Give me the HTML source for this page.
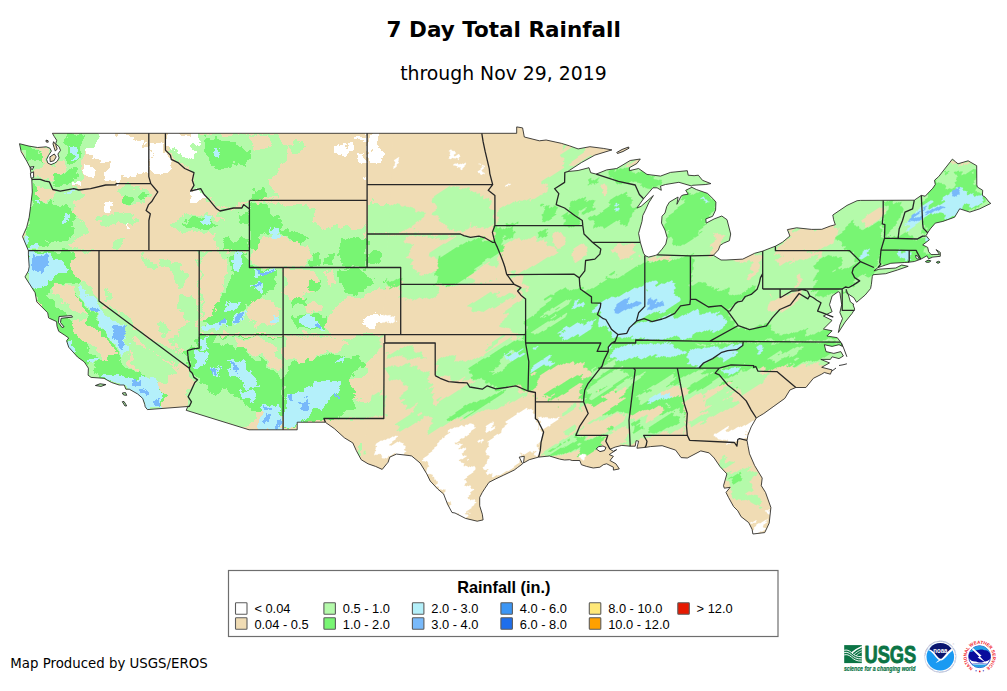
<!DOCTYPE html>
<html><head><meta charset="utf-8"><title>7 Day Total Rainfall</title>
<style>
html,body{margin:0;padding:0;background:#fff;}
body{width:1007px;height:691px;overflow:hidden;position:relative;font-family:"DejaVu Sans","Liberation Sans",sans-serif;}
svg{position:absolute;left:0;top:0;}
.t1{font:bold 21.5px "DejaVu Sans",sans-serif;fill:#000;}
.t2{font:18.83px "DejaVu Sans",sans-serif;fill:#000;}
.t3{font:13.33px "DejaVu Sans",sans-serif;fill:#000;}
.lg{font:12.85px "Liberation Sans",sans-serif;fill:#000;}
.lgt{font:bold 16.3px "Liberation Sans",sans-serif;fill:#000;}
</style></head><body>
<svg width="1007" height="691" viewBox="0 0 1007 691">
<defs><filter id="rough" x="0" y="0" width="1007" height="691" filterUnits="userSpaceOnUse" color-interpolation-filters="sRGB"><feTurbulence type="fractalNoise" baseFrequency="0.1" numOctaves="4" seed="7" result="n"/><feDisplacementMap in="SourceGraphic" in2="n" scale="13" xChannelSelector="R" yChannelSelector="G"/></filter><filter id="streak" x="-200" y="-200" width="1500" height="1200" filterUnits="userSpaceOnUse" color-interpolation-filters="sRGB"><feTurbulence type="fractalNoise" baseFrequency="0.018 0.13" numOctaves="3" seed="11" result="n"/><feDisplacementMap in="SourceGraphic" in2="n" scale="16" xChannelSelector="R" yChannelSelector="G"/></filter><clipPath id="cw"><path d="M0 0H402L387 300L332 691H0Z"/></clipPath><clipPath id="ce"><path d="M400 0H1007V691H330L385 300Z"/></clipPath><clipPath id="us"><path d="M19.5 143.7L29 146.1L37.6 147.5L46.3 146.8L49.9 148.2L51.4 151.1L48.5 155.5L46.6 159.4L47.8 163.1L51 164.6L54.7 163.1L57.2 161.3L59.1 157.9L57.9 154L60.5 150.4L59.1 146.8L55.7 143.9L56.7 140.3L54.3 136.6L52.4 133.3L516.7 133.3L516.7 126.9L522.6 127.9L524.3 137L539.4 140.8L546.1 140L561.3 143.3L569.7 145.9L578.1 148.9L589.9 146.7L603.3 148.4L611.9 149.9L594.9 155.1L581.4 162.6L569.7 170.2L568 171.5L578.1 170.5L589 167.7L590.7 172.7L596.2 174.1L606.7 169.9L616.7 168.5L621 166L630.2 160.5L640.3 159L636.9 163.5L629.4 167.7L629.4 170.7L638.6 168.5L647 174.4L660.5 176.1L670.5 172.4L687.3 170.7L688.2 175.2L694.1 175.7L698.3 175.2L702.5 180.3L710.9 183.6L705.8 184.5L692.4 185.3L691.9 186.1L678.9 182.3L665.5 184.5L660.5 186.1L661.3 190.3L657.1 187.8L652.9 187.8L643.6 198.7L636.9 208L641.1 206.3L653.4 195.5L648.7 202.9L645.3 210.5L642.8 215.5L642 221.4L638.6 233.3L640.3 242.3L643.6 253.3L645.3 255.8L648.7 257.1L655.4 255.4L657.1 254.8L662.1 249.1L665.8 244L667.2 237.7L665 230.1L661.5 223.1L662 216.2L665 213L666.7 206.6L669.4 202.1L678.1 197L676.9 204.3L681 196.2L683 195L688.2 194.2L685.7 190.3L691.9 187.3L696.3 189.5L707.5 193.4L713.7 199.4L715.9 202.1L715.6 210.1L712.6 216.3L705.8 218.9L706.2 223.1L714.2 218.9L721.8 216L727 219.7L730.7 234L729.4 240.7L723.5 243.2L720.1 245.4L718.4 249.9L713.4 255.3L721 260L726 260L742.8 259.1L754.6 253.3L762.7 251.1L770.1 248.2L775.4 246.2L782.3 242.3L789.9 236L787.4 229.6L796.6 227.8L811.7 229.4L821.8 229.3L830.2 226.1L835.3 224.7L833.6 219.7L832.8 215L847 205.4L857.1 200.7L860.5 200.4L914.3 200.2L921.3 195.4L925.2 196.2L932.8 188.2L935.3 184.5L934.5 180.3L938.7 176.6L952.4 159.1L955.5 161.8L958 163.8L968.1 160.8L976.7 165.7L976.8 184.8L977.3 187L982.7 190.3L982.4 195.4L985.2 197.2L989.1 202.1L990.8 203.4L979.8 208.8L969.8 212.1L959.7 208.8L954.6 217.2L942.9 221.4L935.3 223.1L930.3 228.9L927.7 232.8L926.1 235.6L929.4 239.8L922.7 244.9L927.7 247.4L928.6 251.6L931.1 254.6L939.5 254.4L936.1 249.6L940.3 252.4L940.3 256.3L932.8 257.1L928.6 258.8L926.9 255.8L921 259.1L914.3 261.5L908.2 262.3L904.2 262.5L890.8 263.3L885.7 265L878.1 267.5L873.9 270.9L879 269.2L895.8 268L901.7 265L908.2 266.3L897.5 270L885.7 273.7L873.1 274.7L872.3 276.4L871.4 284.3L870.6 288.5L865.2 295L856.6 302.3L853.8 297.7L846.2 292.7L846.2 289.3L848.7 296L850.4 301.9L853.9 304.4L853 304.7L854.7 309.1L852.1 313.4L845.1 322.1L838.4 332.5L839.9 325L842.5 318.6L839.9 312.5L841.7 304.7L840.5 297L839.9 292.6L838.2 291.7L832.1 296L829.5 304.7L832.1 311.7L823.4 316L832.1 320.4L823.4 329L832.1 330.8L826.9 336L837.3 337.7L839.9 341.2L840.8 342.1L842.5 346.4L839 344.7L832.1 346.4L824.3 344.7L826 351.6L833.8 353.4L840.8 351.6L843.4 356L839 358.6L832.1 356.8L830.4 359.4L820.8 359.4L829.5 362.9L821.7 367.3L832.1 369.9L830.4 374.2L824.3 372.5L821.8 374.1L813.4 378.3L805.9 387.5L795.8 387.5L789.9 390L784.8 398.4L773.1 406.8L763.8 413.5L759.6 416L756.3 418L751.2 426.9L747.9 435.3L747 440.4L747.9 445.4L749.5 453.8L754.6 465.5L762.2 478.1L761.3 485.7L765.5 492.4L770.9 507.5L769.2 523.1L765.5 531L764.7 532.6L752.9 534L752.1 529.3L748.7 522.6L741.1 516.7L737.8 510.8L733.6 506.6L728.5 497.4L726 492.4L730.2 487.3L724.3 488.2L723.5 485.7L726.9 473.9L720.1 466.7L714.2 458L709.2 452.9L700.8 450.9L687.3 458L681.1 457.6L675.6 450.1L662.1 445.7L650.4 446.6L645.3 447.4L636.9 448.2L638.6 441.2L636.1 440.7L635.2 446.2L630.2 446.2L621.8 445.4L615.1 447.1L610 449.2L613.4 451.3L616.7 449.6L609.2 454.6L613.4 456.3L610 460.5L615.9 463.8L619.3 468.9L613.4 470.1L613.4 467.2L606.7 463.8L603.3 464.7L599.9 467.2L593.2 468L586.5 466.4L581.4 464.7L579.8 460.5L572.2 460.5L569.7 459.7L564.6 460L559.6 459.1L549.5 456L538.6 457.1L529.3 459.7L523.5 463L524.3 456.3L519.2 457.1L522.6 463.8L517.6 467.5L514.2 470.1L503.3 475.3L495.7 478.9L489 482.3L484.8 488.5L482.3 492.4L479.7 497.4L479.7 505.8L482.3 514.2L483.1 519.9L477.2 521.2L465.5 518.4L455 513L452 512.5L447.5 504.1L443.6 494L437.7 489L430.2 481L426.8 473.9L420.1 463L411.7 456L409.1 455.5L396.5 454.1L389.8 457.1L388.1 462.2L382.2 469.4L375.5 466.4L368 463.8L361.2 459.7L356.2 450.4L352.8 442.9L344.4 437.8L334.3 428.6L325.9 422.7L325.4 422.2L297.2 422.2L297.2 429.8L249.1 429.8L186.2 410.3L187.8 406.5L147.4 409.6L145.2 406.8L144.7 404.3L142.7 398.4L137.7 394L129.3 389.2L125.9 389.2L124.2 385L119.2 385L111.6 382.5L104 378.3L91.1 377.4L88.1 375.2L88.4 368.2L84.4 362L77.5 357L68.7 347.2L66.6 340.8L68.7 338L64.9 335.3L58.7 331.3L57 326.2L56.6 321.6L48.6 317.9L47.7 312.8L36.8 301.9L35.1 292.7L25 276.9L28.4 270.9L29.2 266.7L28.4 254.9L28.4 250.7L22.5 236.6L26.7 227.2L29.2 217.2L30.6 206.6L32.3 192L31.8 179.8L30.9 172.7L30.1 167.7L26.7 161L21.2 151.7Z"/></clipPath></defs>
<rect width="1007" height="691" fill="#fff"/>
<text class="t1" x="503.7" y="36.9" text-anchor="middle">7 Day Total Rainfall</text>
<text class="t2" x="503.4" y="80.1" text-anchor="middle">through Nov 29, 2019</text>
<g clip-path="url(#us)" shape-rendering="crispEdges">
<rect x="0" y="110" width="1007" height="450" fill="#F0DCB4"/>
<g clip-path="url(#cw)">
<g filter="url(#rough)">
<g id="regs">
<rect x="-200" y="-100" width="1400" height="900" fill="#F0DCB4"/>
<path fill="#78F573" d="M182.6 335.6L283.1 335.6L283.1 413.8L182.6 413.8Z"/>
<path fill="#B4FAAA" d="M17.4 142.3L53.4 132.4L99.3 132.4L95.6 143.6L86.9 149.8L84.4 159.7L81.9 167.2L85.7 177.1L79.4 183.3L72 188.3L81.9 190.8L85.7 197L74.5 201.9L72 209.4L79.4 219.3L86.9 224.3L86.9 231.7L79.4 236.7L72 239.2L70.8 245.4L81.9 250.3L96.8 250.3L96.8 293.8L22.3 293.8L22.3 239.2L29.8 194.5L27.3 169.7Z"/>
<path fill="#B4FAAA" d="M119.2 187L134.1 185.8L149 194.5L146.5 204.4L139 201.9L129.1 204.4L124.1 197L116.7 194.5Z"/>
<path fill="#B4FAAA" d="M99.3 216.8L116.7 211.9L131.6 214.3L139 219.3L129.1 224.3L116.7 221.8L106.8 226.8L98.1 224.3Z"/>
<path fill="#B4FAAA" d="M116.7 239.2L124.1 236.7L121.6 249.1L115.4 249.1Z"/>
<path fill="#B4FAAA" d="M171.3 224.3L181.2 216.8L198.6 213.1L216 215.6L223.4 224.3L218.5 231.7L203.6 234.2L188.7 231.7L173.8 230.5Z"/>
<path fill="#B4FAAA" d="M142.8 255.3L149 259L156.4 266.5L152.7 269L145.2 262.8Z"/>
<path fill="#B4FAAA" d="M175 271.4L181.2 270.2L182.5 278.9L176.3 278.9Z"/>
<path fill="#B4FAAA" d="M247.5 200.7L282.3 200.7L287.2 205.7L307.1 205.7L317 211.9L312.1 224.3L331.9 229.2L339.4 226.8L359.2 229.2L366.2 224.3L367.2 267L247.5 267Z"/>
<path fill="#B4FAAA" d="M367.7 201.9L389 203.2L408.9 206.9L421.3 211.9L423.8 221.8L413.9 229.2L399 231.7L367.7 233.7Z"/>
<path fill="#B4FAAA" d="M436.2 194.5L448.6 185.8L466 189.5L483.4 194.5L492.8 201.9L494.5 224.3L483.4 229.2L468.5 224.3L461 231.7L448.6 229.2L438.7 219.3L433.7 206.9Z"/>
<path fill="#B4FAAA" d="M367.7 233.7L461 233.7L468.5 236.7L488.3 239.2L503.2 249.1L503.2 293.8L400.9 293.8L400.9 267.7L367.7 267.7Z"/>
<path fill="#B4FAAA" d="M562.1 149.8L574.5 146.1L584.4 149.3L609.2 149.3L629.1 144.8L649 157.2L688.7 169.7L713.5 182.1L733.4 214.3L753.2 249.1L753.2 293.8L497.5 293.8L497.5 206.9L514.9 204.4L532.3 199.4L547.2 194.5L549.7 184.5L539.7 179.6L557.1 172.1L564.5 167.2Z"/>
<path fill="#B4FAAA" d="M747.5 157.2L1000.7 157.2L1000.7 293.8L747.5 293.8Z"/>
<path fill="#B4FAAA" d="M19.9 249.9L99.3 249.9L99.3 300.8L188.7 367.9L201.1 379L193.6 413.8L146.5 413.8L86.9 379L22.3 277.2Z"/>
<path fill="#B4FAAA" d="M158.9 257.4L173.8 262.3L171.3 267.3L158.9 264.8Z"/>
<path fill="#B4FAAA" d="M173.8 269.8L183.7 267.3L188.7 274.8L181.2 287.2L173.8 282.2Z"/>
<path fill="#B4FAAA" d="M178.7 297.1L191.2 294.6L198.1 304.5L198.1 321.9L188.7 326.9L183.7 314.5L177.5 307Z"/>
<path fill="#B4FAAA" d="M104.3 292.1L109.2 289.7L111.7 299.6L105.5 302.1Z"/>
<path fill="#B4FAAA" d="M168.8 339.3L183.7 336.8L188.7 346.8L178.7 349.2Z"/>
<path fill="#B4FAAA" d="M149 349.2L161.4 344.3L178.7 349.2L188.7 354.2L187.4 366.6L173.8 364.1L158.9 356.7Z"/>
<path fill="#B4FAAA" d="M119.2 312L129.1 314.5L134.1 326.9L126.6 324.4Z"/>
<path fill="#B4FAAA" d="M156.4 325.7L166.3 323.2L170.1 331.9L162.6 335.6Z"/>
<path fill="#B4FAAA" d="M199.4 251.2L249.6 251.2L249.6 267.3L283.1 267.3L283.1 334.3L199.4 334.3Z"/>
<path fill="#B4FAAA" d="M283.1 267.3L401 267.3L401 284.7L388.6 289.7L378.7 287.2L368.7 294.6L353.9 299.6L343.9 297.1L339 304.5L329 314.5L324.1 324.4L329 334.3L283.1 334.3Z"/>
<path fill="#B4FAAA" d="M249.6 237.5L367.5 237.5L367.5 267.3L249.6 267.3Z"/>
<path fill="#B4FAAA" d="M367.5 237.5L443.2 237.5L443.2 284.7L401 284.7L401 267.3L367.5 267.3Z"/>
<path fill="#B4FAAA" d="M401 284.7L443.2 284.7L443.2 299.6L420.9 297.1L401 299.6Z"/>
<path fill="#B4FAAA" d="M386.1 351.7L401 346.8L418.4 349.2L428.3 359.2L423.4 374.1L413.4 389L401 401.4L388.6 413.8L384.9 389Z"/>
<path fill="#B4FAAA" d="M283.1 335.6L329 335.6L348.9 339.3L363.8 335.6L383.6 335.6L383.6 344.3L373.7 356.7L363.8 364.1L368.7 374.1L348.9 379L343.9 393.9L348.9 413.8L283.1 413.8Z"/>
<path fill="#B4FAAA" d="M214.8 336.8L283.1 336.8L283.1 379L274.4 374.1L264.5 364.1L254.5 356.7L239.7 346.8L227.2 344.3L214.8 341.8Z"/>
<path fill="#B4FAAA" d="M507 272.3L601.4 272.3L601.4 344.3L524.4 344.3L524.4 297.1Z"/>
<path fill="#B4FAAA" d="M687.5 237.5L943.2 237.5L943.2 413.8L687.5 413.8Z"/>
<path fill="#B4FAAA" d="M326.1 419.7L353.4 419.7L363.4 424.7L353.4 432.1L343.5 429.7L333.6 424.7Z"/>
<path fill="#B4FAAA" d="M355.9 447L363.4 452L365.8 459.4L358.4 457Z"/>
<path fill="#B4FAAA" d="M577.5 394.8L686.8 394.8L686.8 435L643.3 435L629.7 444.5L609.8 444.5L607.3 435.8L577.5 435.8Z"/>
<path fill="#B4FAAA" d="M198.7 133.9L275.1 133.9L289 146.1L282.1 165.2L268.2 179.1L278.6 199.2L250.1 199.2L243.8 205.2L219.5 208.6L209.1 199.9L191.7 189.5L193.4 172.1L170.9 154.8L165.6 133.9Z"/>
<path fill="#B4FAAA" d="M289 144.3L302.9 140.9L306.4 149.5L292.5 153Z"/>
<path fill="#B4FAAA" d="M219.5 210.4L249.1 206.9L249.1 250.3L219.5 250.3L212.6 238.2L223 224.3Z"/>
<path fill="#F0DCB4" d="M33.5 184.5L49.7 188.3L57.1 192L54.6 199.4L47.2 199.4L39.7 201.9L34.8 197Z"/>
<path fill="#F0DCB4" d="M38.4 147.5L47.8 147.2L49.9 149L48.5 155.5L46.6 159.4L47.8 163.4L51.4 165.2L57.2 161.3L63.7 163.4L65.1 169.2L62.2 175L57.9 177.9L53.6 180.8L47.8 179.4L42 177.9L36.2 177.2L34 173.6L37.6 169.2L42 166.3L43.4 162L42 154.7Z"/>
<path fill="#F0DCB4" d="M259.9 239.2L274.8 236.7L297.2 241.6L309.6 249.1L307.1 261.5L287.2 267L264.9 267L257.4 254.1Z"/>
<path fill="#F0DCB4" d="M406.4 236.7L423.8 235.4L438.7 237.9L456.1 236.7L448.6 244.1L433.7 249.1L423.8 259L413.9 266.5L408.9 259L411.4 249.1L403.9 244.1Z"/>
<path fill="#F0DCB4" d="M581.9 149.3L611.7 147.8L610.5 152.3L596.8 157.2L584.4 162.2L574.5 167.2L567 168.4L574.5 159.7L584.4 153.5Z"/>
<path fill="#F0DCB4" d="M505 244.1L519.9 236.7L534.8 239.2L539.7 249.1L529.8 259L519.9 269L507.4 273.9L497.5 271.4L497.5 254.1Z"/>
<path fill="#F0DCB4" d="M553.4 233L562.1 231.7L565.8 241.6L559.6 249.1L553.4 244.1Z"/>
<path fill="#F0DCB4" d="M572 254.1L581.9 249.1L584.4 259L574.5 264Z"/>
<path fill="#F0DCB4" d="M497.5 276.4L514.9 276.4L517.4 293.8L497.5 293.8Z"/>
<path fill="#F0DCB4" d="M600.5 185.8L605.5 184.5L606.8 192L601.3 192.5Z"/>
<path fill="#F0DCB4" d="M616.7 244.1L634.1 242.9L637.8 254.1L629.1 261.5L619.2 259Z"/>
<path fill="#F0DCB4" d="M713.5 246.6L723.4 244.1L723.4 255.3L711 255.3Z"/>
<path fill="#F0DCB4" d="M653.9 257.8L673.8 257L673.8 262.8L653.9 263.5Z"/>
<path fill="#F0DCB4" d="M730.9 259L743.3 255.3L753.2 253.6L753.2 260.3L743.3 264L733.4 265.2Z"/>
<path fill="#F0DCB4" d="M788.5 229.2L807.1 228L824.5 229.2L836.9 226.8L838.1 236.7L831.9 244.1L819.5 249.1L799.7 250.3L777.3 249.1L782.3 241.6L789.7 236.7Z"/>
<path fill="#F0DCB4" d="M861.7 219.3L871.6 214.3L881.6 209.4L881.6 219.3L874.1 224.3L864.2 224.3Z"/>
<path fill="#F0DCB4" d="M953.6 159.7L969.7 159.7L968.5 164.7L956.1 165.9Z"/>
<path fill="#F0DCB4" d="M772.3 259L782.3 254.1L799.7 252.8L819.5 254.1L819.5 257.8L799.7 259L779.8 264Z"/>
<path fill="#F0DCB4" d="M747.5 256.5L759.9 255.3L759.9 269L755 278.9L747.5 278.9Z"/>
<path fill="#F0DCB4" d="M797.2 276.4L800.9 276.4L800.9 286.3L797.2 286.3Z"/>
<path fill="#F0DCB4" d="M72 251.2L98.8 251.2L98.8 299.6L91.9 289.7L84.4 282.2L74.5 274.8L72 264.8Z"/>
<path fill="#F0DCB4" d="M53.4 284.7L64.5 282.2L74.5 289.7L84.4 304.5L85.7 314.5L74.5 312L64.5 302.1L54.6 294.6Z"/>
<path fill="#F0DCB4" d="M72 321.9L84.4 319.4L96.8 329.4L106.8 341.8L116.7 356.7L119.2 364.1L109.2 364.1L99.3 354.2L86.9 344.3L74.5 334.3Z"/>
<path fill="#F0DCB4" d="M134.1 336.8L149 349.2L173.8 364.1L186.2 369.1L193.6 381.5L186.2 398.9L183.7 413.8L163.9 413.8L156.4 389L139 379L129.1 364.1L131.6 349.2Z"/>
<path fill="#F0DCB4" d="M201.2 254.9L222.3 253.7L227.2 264.8L222.3 279.7L214.8 287.2L204.9 289.7L201.2 282.2Z"/>
<path fill="#F0DCB4" d="M247.1 307L262 304.5L264.5 317L252.1 321.9L245.9 314.5Z"/>
<path fill="#F0DCB4" d="M201.2 297.1L212.3 299.6L214.8 312L204.9 319.4L201.2 314.5Z"/>
<path fill="#F0DCB4" d="M284.3 268.6L306.7 268.6L319.1 277.2L314.1 289.7L301.7 297.1L289.3 299.6L284.3 289.7Z"/>
<path fill="#F0DCB4" d="M324.1 272.3L334 269.8L336.5 284.7L329 289.7Z"/>
<path fill="#F0DCB4" d="M304.2 302.1L324.1 304.5L319.1 314.5L301.7 312Z"/>
<path fill="#F0DCB4" d="M252.1 242.5L301.7 242.5L309.2 252.4L299.2 264.8L252.1 264.8Z"/>
<path fill="#F0DCB4" d="M408.5 259.9L428.3 254.9L443.2 259.9L443.2 272.3L418.4 274.8L408.5 269.8Z"/>
<path fill="#F0DCB4" d="M284.3 336.8L343.9 336.8L348.9 346.8L339 351.7L324.1 351.7L314.1 359.2L299.2 361.6L289.3 359.2L284.3 354.2Z"/>
<path fill="#F0DCB4" d="M348.9 379L383.6 374.1L383.6 413.8L353.9 413.8L343.9 398.9Z"/>
<path fill="#F0DCB4" d="M234.7 339.3L259.5 338.1L271.9 344.3L279.4 356.7L280.6 374.1L271.9 369.1L262 356.7L249.6 351.7L237.2 346.8Z"/>
<path fill="#F0DCB4" d="M464.8 272.3L489.7 262.3L507 274.8L512 283.4L477.2 284.2Z"/>
<path fill="#F0DCB4" d="M437.5 284.7L512 284.7L525.7 297.1L525.7 334.3L437.5 334.3Z"/>
<path fill="#F0DCB4" d="M508.3 276L521.9 276L526.9 289.7L519.4 287.2Z"/>
<path fill="#F0DCB4" d="M502.1 254.9L521.9 245L544.3 242.5L559.2 249.9L544.3 259.9L526.9 267.3L512 272.3Z"/>
<path fill="#F0DCB4" d="M569.1 249.9L584 245L589 254.9L574.1 262.3Z"/>
<path fill="#F0DCB4" d="M613.8 249.9L633.6 247.4L636.1 254.9L618.7 257.4Z"/>
<path fill="#F0DCB4" d="M437.5 334.3L514.5 334.3L499.6 349.2L484.7 364.1L477.2 386.5L464.8 369.1L454.9 379L437.5 379Z"/>
<path fill="#F0DCB4" d="M437.5 379L464.8 379L464.8 413.8L437.5 413.8Z"/>
<path fill="#F0DCB4" d="M727.2 277.2L744.6 268.6L758.3 263.6L757 269.8L744.6 276L731 282.2Z"/>
<path fill="#F0DCB4" d="M713.6 237.5L724.8 237.5L717.3 252.4L712.3 249.9Z"/>
<path fill="#F0DCB4" d="M769.4 299.6L779.4 295.9L789.3 293.4L799.2 293.4L801.7 299.6L789.3 307L779.4 312L771.9 309.5Z"/>
<path fill="#F0DCB4" d="M774.4 247.4L794.3 248.7L814.1 251.2L819.1 254.9L799.2 254.9L774.4 252.4Z"/>
<path fill="#F0DCB4" d="M784.3 237.5L829 237.5L829 245L789.3 247.4Z"/>
<path fill="#F0DCB4" d="M784.3 371.6L799.2 364.1L819.1 361.6L834 367.9L829 375.3L806.7 384L794.3 387.7L776.9 372.8Z"/>
<path fill="#F0DCB4" d="M739.7 389L754.5 379L764.5 374.1L776.9 372.8L794.3 387.7L776.9 401.4L764.5 413.8L749.6 413.8L744.6 401.4Z"/>
<path fill="#F0DCB4" d="M719.8 393.9L739.7 389L749.6 413.8L714.8 413.8Z"/>
<path fill="#F0DCB4" d="M796.8 277.2L800.5 277.2L800.5 287.2L796.8 287.2Z"/>
<path fill="#F0DCB4" d="M385.1 357.5L435.5 357.5L435.5 374.9L449.2 381.1L469 384.8L488.9 387.3L508.7 387.3L528.6 391L536.1 392.3L536.1 419.6L543.5 434.5L539.8 456.8L479 533.8L327.5 533.8L327.5 419.6L385.1 419.1Z"/>
<path fill="#F0DCB4" d="M536.1 401L580.7 401L580.7 459.3L539.8 456.8L543.5 434.5L536.1 419.6Z"/>
<path fill="#F0DCB4" d="M250.8 135.6L271.6 135.6L268.2 147.8L254.3 151.3Z"/>
<path fill="#B4FAAA" d="M467.3 305.8L489.7 293.4L509.5 288.4L514.5 297.1L499.6 304.5L484.7 312L469.8 310.8Z"/>
<path fill="#B4FAAA" d="M504.5 314.5L525.7 302.1L525.7 334.3L514.5 334.3L502.1 324.4Z"/>
<path fill="#B4FAAA" d="M464.8 369.1L484.7 349.2L504.5 339.3L525.7 335.6L525.7 389L514.5 386.5L489.7 389L477.2 386.5Z"/>
<path fill="#B4FAAA" d="M387.1 369.9L409.4 362.5L429.3 374.9L434.3 384.8L424.3 392.3L414.4 404.7L404.5 409.7L402 402.2L411.9 389.8L404.5 379.9L392.1 377.4Z"/>
<path fill="#B4FAAA" d="M424.3 409.7L439.2 399.7L454.1 389.8L469 384.8L488.9 387.3L508.7 388.6L526.1 391L528.6 397.2L508.7 399.7L493.9 407.2L479 409.7L464.1 417.1L449.2 424.5L436.8 432L429.3 434.5L434.3 422.1Z"/>
<path fill="#B4FAAA" d="M394.5 422.1L411.9 414.6L426.8 407.2L424.3 417.1L414.4 427L402 432L394.5 429.5Z"/>
<path fill="#B4FAAA" d="M416.9 392.3L434.3 392.3L434.3 409.7L416.9 409.7Z"/>
<path fill="#B4FAAA" d="M357.3 446.9L362.3 444.4L363.5 454.3L358.6 455.6Z"/>
<path fill="#B4FAAA" d="M436.8 357.5L488.9 357.5L469 367.4L469 377.4L454.1 381.1L436.8 374.9Z"/>
<path fill="#B4FAAA" d="M541 454.3L553.4 444.4L568.3 437L580.7 429.5L580.7 451.9L563.4 455.6Z"/>
<path fill="#B4FAAA" d="M344.9 384.8L359.8 374.9L379.7 372.4L384.1 384.8L384.1 418.6L327.5 418.6L327.5 399.7Z"/>
<path fill="#B4FAAA" d="M131.1 343.2L149 349.2L166.8 361.1L178.7 370L166.8 379L154.9 384.9L143 379L134.1 364.1Z"/>
<path fill="#F0DCB4" d="M201.1 253.8L223.4 255.3L226.4 271.7L221.9 295.5L214.5 319.4L201.1 322.4Z"/>
<path fill="#F0DCB4" d="M250.2 300L268.1 298.5L280 307.5L277.1 325.3L256.2 325.3L248.8 313.4Z"/>
<path fill="#B4FAAA" d="M166.8 259.8L178.7 265.7L184.7 283.6L178.7 289.6L172.8 277.7Z"/>
<path fill="#B4FAAA" d="M178.7 328.3L193.6 319.4L198.1 332.8L196.6 349.2L184.7 346.2Z"/>
<path fill="#F0DCB4" d="M347.4 382.3L362.3 374.9L383.4 369.9L383.4 392.3L362.3 392.3L354.8 399.7L347.4 394.8Z"/>
<path fill="#78F573" d="M33.5 182.1L39.7 201.9L47.2 200.7L55.9 201.9L59.6 206.9L67 205.7L74.5 211.9L77 219.3L72 224.3L74.5 231.7L69.5 239.2L62.1 244.1L49.7 241.6L37.2 246.6L27.3 249.1L23.6 236.7L27.3 224.3L31 201.9Z"/>
<path fill="#78F573" d="M125.4 197L131.6 197L131.6 203.2L125.4 203.2Z"/>
<path fill="#78F573" d="M137.8 194.5L146.5 194.5L146.5 199.4L137.8 199.4Z"/>
<path fill="#78F573" d="M182.5 221.8L196.1 216.8L211 218.1L216 224.3L208.5 229.2L193.6 228L183.7 226.8Z"/>
<path fill="#78F573" d="M19.5 143.9L29 146.1L36.2 149L42 154.7L43.4 162L37.6 160.5L31.8 162L27.5 157.6L23.2 150.4Z"/>
<path fill="#78F573" d="M63.7 134.5L81.1 133.8L84 138.8L81.1 149L78.2 157.6L75.3 163.4L69.5 164.9L66.6 159.1L67.3 149L65.1 141.7Z"/>
<path fill="#78F573" d="M55 172.1L62.2 175L68 169.2L75.3 167.8L78.2 175L72.4 180.8L65.1 183.7L57.9 186.6L53.6 183.7Z"/>
<path fill="#78F573" d="M250 201.9L264.9 201.9L272.3 211.9L279.8 219.3L282.3 231.7L274.8 236.7L264.9 231.7L259.9 239.2L255 249.1L250 249.1Z"/>
<path fill="#78F573" d="M282.3 229.2L299.7 233L308.3 239.2L303.4 244.1L289.7 239.2L282.3 236.7Z"/>
<path fill="#78F573" d="M341.9 242.9L359.2 241.6L366.7 246.6L366.7 267L341.9 267L339.4 254.1Z"/>
<path fill="#78F573" d="M309.6 254.1L319.5 254.1L319.5 267L309.6 267Z"/>
<path fill="#78F573" d="M324.5 254.1L334.4 254.1L334.4 264L324.5 264Z"/>
<path fill="#78F573" d="M503.2 239.2L488.3 241.6L473.4 249.1L458.5 261.5L443.6 273.9L433.7 283.9L448.6 283.9L466 273.9L483.4 261.5L503.2 254.1Z"/>
<path fill="#78F573" d="M367.7 251.6L379.1 255.3L379.1 264L367.7 266.5Z"/>
<path fill="#78F573" d="M494.5 225.5L503.2 225.5L503.2 254.1L498.3 244.1Z"/>
<path fill="#78F573" d="M497.5 225.5L514.9 226.8L514.9 236.7L497.5 236.7Z"/>
<path fill="#78F573" d="M537.2 233L547.2 233L547.2 237.9L537.2 237.9Z"/>
<path fill="#78F573" d="M542.2 206.9L554.6 204.4L557.1 214.3L549.7 221.8L539.7 219.3Z"/>
<path fill="#78F573" d="M562.1 219.3L574.5 211.9L581.9 219.3L579.4 225.5L564.5 225.5Z"/>
<path fill="#78F573" d="M507.4 219.3L519.9 219.3L519.9 224.3L507.4 224.3Z"/>
<path fill="#78F573" d="M588.1 177.1L598.1 175.9L599.3 182.1L589.4 182.1Z"/>
<path fill="#78F573" d="M569.5 201.9L591.9 199.4L594.3 206.9L581.9 211.9L572 214.3Z"/>
<path fill="#78F573" d="M606.8 199.4L624.1 194.5L634.1 201.9L631.6 214.3L626.6 224.3L614.2 221.8L606.8 229.2L594.3 224.3L586.9 219.3L599.3 214.3L609.2 209.4Z"/>
<path fill="#78F573" d="M609.2 172.1L629.1 167.2L641.5 169.7L658.9 177.1L663.9 184.5L649 189.5L639 184.5L624.1 179.6L611.7 178.3Z"/>
<path fill="#78F573" d="M688.7 190.8L711 194.5L716 204.4L711 219.3L706.1 221.8L698.6 229.2L688.7 239.2L673.8 244.1L666.3 236.7L666.3 219.3L673.8 211.9L681.2 201.9Z"/>
<path fill="#78F573" d="M631.6 273.9L644 273.9L645.2 293.8L631.6 293.8Z"/>
<path fill="#78F573" d="M646 269L689.9 266.5L689.9 293.8L646 293.8Z"/>
<path fill="#78F573" d="M691.2 283.9L701.1 281.4L703.6 293.8L691.2 293.8Z"/>
<path fill="#78F573" d="M836.9 236.7L844.3 229.2L849.3 219.3L859.2 226.8L869.2 226.8L881.6 224.3L881.6 249.1L879.1 266.5L871.6 273.9L859.2 264L859.2 259L849.3 249.1L839.4 244.1Z"/>
<path fill="#78F573" d="M881.6 239.2L923.8 239.2L928.7 244.1L923.8 254.1L938.7 255.3L933.7 259L921.3 259L908.9 262.8L881.6 266.5Z"/>
<path fill="#78F573" d="M884.1 201.9L899 201.9L903.9 211.9L896.5 224.3L889 236.7L884.1 236.7Z"/>
<path fill="#78F573" d="M923.8 192L936.2 177.1L948.6 167.2L956.1 172.1L963.5 169.7L975.9 164.7L977.2 192L988.3 199.4L980.9 206.9L966 211.9L953.6 219.3L938.7 224.3L928.7 229.2L925 236.7L922.5 219.3Z"/>
<path fill="#78F573" d="M814.5 278.9L817 266.5L827 259L836.9 261.5L831.9 271.4L854.3 269L859.2 264L871.6 269L872.9 278.9L866.7 293.8L814.5 293.8Z"/>
<path fill="#78F573" d="M24.8 251.2L72 251.2L72 264.8L74.5 274.8L84.4 282.2L77 284.7L64.5 282.2L53.4 284.7L49.7 297.1L39.7 302.1L34.8 289.7L24.8 274.8Z"/>
<path fill="#78F573" d="M34.8 289.7L49.7 297.1L64.5 314.5L72 321.9L74.5 334.3L86.9 344.3L94.3 359.2L86.9 369.1L74.5 354.2L64.5 339.3L49.7 317L37.2 302.1Z"/>
<path fill="#78F573" d="M74.5 289.7L84.4 304.5L99.3 321.9L109.2 339.3L119.2 356.7L124.1 369.1L134.1 379L149 379L158.9 389L153.9 398.9L139 389L124.1 381.5L111.7 374.1L99.3 374.1L94.3 359.2L116.7 356.7L106.8 341.8L96.8 329.4L84.4 319.4L85.7 314.5Z"/>
<path fill="#78F573" d="M227.2 254.9L244.6 252.4L249.6 267.3L271.9 268.6L276.9 277.2L271.9 289.7L262 297.1L252.1 302.1L244.6 307L239.7 319.4L227.2 326.9L214.8 326.9L204.9 321.9L214.8 312L222.3 297.1L229.7 284.7L232.2 269.8Z"/>
<path fill="#78F573" d="M339 268.6L363.8 268.6L368.7 277.2L376.2 282.2L363.8 289.7L353.9 297.1L343.9 292.1L339 282.2Z"/>
<path fill="#78F573" d="M383.6 279.7L398.5 279.7L399.8 288.4L388.6 289.7Z"/>
<path fill="#78F573" d="M309.2 279.7L319.1 279.7L319.1 289.7L309.2 289.7Z"/>
<path fill="#78F573" d="M294.3 297.1L306.7 297.1L306.7 304.5L294.3 304.5Z"/>
<path fill="#78F573" d="M291.8 317L301.7 314.5L324.1 317L325.3 326.9L314.1 329.4L296.8 326.9Z"/>
<path fill="#78F573" d="M341.4 237.5L366.8 237.5L366.8 266.8L348.9 266.8L339 254.9Z"/>
<path fill="#78F573" d="M325.3 253.7L334 253.7L334 263.6L325.3 263.6Z"/>
<path fill="#78F573" d="M367.5 249.9L378.7 252.4L381.2 264.8L367.5 266.1Z"/>
<path fill="#78F573" d="M289.3 364.1L299.2 361.6L314.1 359.2L329 354.2L343.9 356.7L363.8 359.2L366.3 364.1L351.4 374.1L343.9 381.5L329 384L309.2 389L294.3 389L284.3 398.9L283.1 379Z"/>
<path fill="#78F573" d="M283.3 398.9L299.2 398.9L299.2 413.8L283.3 413.8Z"/>
<path fill="#78F573" d="M437.5 254.9L464.8 245L489.7 237.5L497.1 247.4L484.7 257.4L464.8 269.8L449.9 279.7L437.5 282.2Z"/>
<path fill="#78F573" d="M525.7 341.8L525.7 321.9L544.3 299.6L564.1 289.7L579 289.7L593.9 287.2L613.8 277.2L628.7 269.8L644.8 264.8L693.2 254.9L693.2 413.8L584 413.8L585.2 401.4L535.6 401.4L535.6 391.4L525.7 389L514.5 386.5L497.1 386.5L489.7 379L484.7 364.1L499.6 349.2L514.5 339.3Z"/>
<path fill="#78F573" d="M687.5 282.2L704.9 285.9L722.3 290.9L737.2 293.4L752.1 287.2L754.5 292.1L744.6 299.6L732.2 307L727.2 312L737.2 326.9L752.1 328.1L767 321.9L771.9 329.4L789.3 334.3L809.2 331.9L829 326.9L839 340.5L742.1 341.8L687.5 341.8Z"/>
<path fill="#78F573" d="M814.1 282.2L829 274.8L848.9 264.8L858.8 259.9L863.8 252.4L848.9 249.9L858.8 237.5L883.6 237.5L881.2 254.9L873.7 264.8L868.7 272.3L863.8 282.2L858.8 287.2L848.9 287.2L839 288.4Z"/>
<path fill="#78F573" d="M819.1 259.9L831.5 254.9L843.9 257.4L839 267.3L824.1 272.3L817.9 267.3Z"/>
<path fill="#78F573" d="M687.5 343L839 343L841.4 351.7L829 356.7L814.1 359.2L799.2 361.6L784.3 369.1L769.4 369.1L757 371.6L752.1 365.4L719.8 365.4L714.8 369.1L699.9 367.9L687.5 367.9Z"/>
<path fill="#78F573" d="M687.5 369.1L714.8 370.3L724.8 384L714.8 393.9L699.9 403.9L687.5 413.8Z"/>
<path fill="#78F573" d="M881.2 249.9L915.9 249.9L928.3 254.9L913.4 259.9L908.5 261.1L881.2 261.1Z"/>
<path fill="#78F573" d="M283.9 377.5L353.4 377.5L353.4 407.3L341 417.2L323.6 421L298.8 423.4L284.4 430.9Z"/>
<path fill="#78F573" d="M449.2 417.1L469 402.2L488.9 392.3L508.7 389.8L503.8 394.8L483.9 402.2L469 412.1L454.1 422.1Z"/>
<path fill="#78F573" d="M469 367.4L488.9 357.5L528.6 357.5L528.6 387.3L508.7 386.1L488.9 384.8L479 382.3L469 377.4Z"/>
<path fill="#78F573" d="M548.5 453.1L563.4 445.7L580.7 439.4L580.7 446.9L563.4 454.3Z"/>
<path fill="#78F573" d="M577.5 435.8L606.1 435.8L602.3 444.5L589.9 454.4L577.5 456.9Z"/>
<path fill="#78F573" d="M686.8 367.5L758.7 367.5L738.9 382.4L719 397.3L696.7 409.7L686.8 419.7Z"/>
<path fill="#78F573" d="M202.1 137.4L226.5 140.9L250.8 151.3L247.3 165.2L229.9 165.2L219.5 172.1L209.1 161.7L205.6 147.8Z"/>
<path fill="#78F573" d="M250.8 189.5L264.7 189.5L264.7 199.2L250.8 199.2Z"/>
<path fill="#78F573" d="M238.6 212.1L249.1 211.1L249.1 224.3L240.4 224.3Z"/>
<path fill="#78F573" d="M223 238.2L249.1 239.9L249.1 250.3L224.7 250.3Z"/>
<path fill="#78F573" d="M98.3 370L125.1 367L140 373L154.9 384.9L166.8 396.8L160.9 405.8L143 399.8L128.1 384.9L101.3 379Z"/>
<path fill="#B4FAAA" d="M534.3 331.9L554.2 317L569.1 309.5L564.1 317L549.2 326.9L536.8 335.6Z"/>
<path fill="#B4FAAA" d="M539.3 321.9L556.7 307L574.1 297.1L569.1 305.8L551.7 317Z"/>
<path fill="#B4FAAA" d="M589 369.1L608.8 356.7L613.8 361.6L598.9 374.1L589 379Z"/>
<path fill="#B4FAAA" d="M608.8 393.9L628.7 379L643.6 371.6L638.6 381.5L623.7 391.4L611.3 401.4Z"/>
<path fill="#B4FAAA" d="M643.6 389L663.4 376.5L675.8 371.6L670.9 381.5L653.5 393.9Z"/>
<path fill="#B4FAAA" d="M656 401.4L673.4 389L688.3 384L685.8 393.9L668.4 406.3Z"/>
<path fill="#B4FAAA" d="M489.7 374.1L504.5 359.2L514.5 351.7L512 361.6L499.6 374.1Z"/>
<path fill="#F0DCB4" d="M534.3 389L549.2 379L569.1 369.1L584 364.1L589 371.6L574.1 384L559.2 393.9L544.3 398.9L535.6 398.9Z"/>
<path fill="#F0DCB4" d="M589 389L603.9 379L611.3 382.8L598.9 395.2L589 398.9Z"/>
<path fill="#B4FAAA" d="M771.9 331.9L789.3 324.4L794.3 328.1L776.9 335.6Z"/>
<path fill="#B4FAAA" d="M764.5 359.2L784.3 351.7L804.2 349.2L799.2 355.4L779.4 361.6Z"/>
<path fill="#B4FAAA" d="M189.6 385L204.5 386.2L211.9 394.9L226.8 391.2L239.2 397.4L249.2 404.8L254.1 417.2L249.2 430.9L185.9 412.3Z"/>
<path fill="#F0DCB4" d="M348.5 377.5L380.7 377.5L380.7 394.9L363.4 404.8L353.4 394.9Z"/>
<path fill="#F0DCB4" d="M536.1 374.9L563.4 365L580.7 365L580.7 401L536.1 401Z"/>
<path fill="#F0DCB4" d="M643.3 435L686.8 435L686.8 419.7L696.7 409.7L711.6 407.2L719 397.3L733.9 387.4L746.3 377.4L758.7 367.5L830.7 367.5L830.7 543.8L629.7 543.8L629.7 444.5Z"/>
<path fill="#B4FAAA" d="M585 389.9L604.8 377.4L624.7 370L629.7 375L609.8 387.4L589.9 399.8Z"/>
<path fill="#B4FAAA" d="M634.6 399.8L654.5 389.9L674.3 384.9L679.3 389.9L659.4 399.8L639.6 407.2Z"/>
<path fill="#B4FAAA" d="M639.6 424.6L659.4 417.2L679.3 412.2L684.3 417.2L664.4 424.6L644.5 430.8Z"/>
<path fill="#B4FAAA" d="M587.4 432.1L604.8 422.1L624.7 419.7L619.7 427.1L599.9 434.5Z"/>
<path fill="#B4FAAA" d="M689.2 399.8L704.1 387.4L719 377.4L729 379.9L714.1 392.3L696.7 407.2Z"/>
<path fill="#F0DCB4" d="M580 419.7L592.4 407.2L609.8 397.3L619.7 399.8L604.8 412.2L589.9 424.6L580 429.6Z"/>
<path fill="#F0DCB4" d="M632.1 417.2L649.5 409.7L664.4 407.2L654.5 414.7L637.1 422.1Z"/>
<path fill="#F0DCB4" d="M661.9 394.8L679.3 387.4L689.2 389.9L684.3 397.3L666.9 402.3Z"/>
<path fill="#F0DCB4" d="M583.8 407.5L601.7 395.5L622.6 386.6L627 394.1L607.7 407.5L589.8 419.4L577.9 422.4Z"/>
<path fill="#F0DCB4" d="M589.8 423.8L613.6 414.9L625.5 417L604.7 428.9L586.8 430.1Z"/>
<path fill="#F0DCB4" d="M627.1 164.1L639 157.5L642 161.1L631.6 166.6Z"/>
<path fill="#F0DCB4" d="M587.8 408.3L605.9 400L615.6 397.2L618.4 402.8L605.9 409.7L590.6 418.1L582.2 422.2Z"/>
<path fill="#F0DCB4" d="M590.6 427.8L605.9 420.9L626.7 413.9L628.1 419.5L615.6 427.8L601.7 434.8L578.1 434.1Z"/>
<path fill="#F0DCB4" d="M605.9 435.5L626.7 427.8L628.8 441.7L615.6 445.9L608.7 445.9Z"/>
<path fill="#F0DCB4" d="M632.3 412.5L649 408.3L650.4 413.9L635.1 419.5Z"/>
<path fill="#F0DCB4" d="M643.4 435.5L685.1 434.8L685.8 427.8L674 432L657.3 433.4Z"/>
<path fill="#F0DCB4" d="M560 400L575.3 400L578.1 411.1L575.3 434.8L560 434.8Z"/>
<path fill="#B4FAAA" d="M951.2 159.4L976.6 165.5L975.2 169.8L967.6 172.6L961 176.3L955.4 172.6L952.6 176.3L954.5 181L946.9 185.8L941.3 184.8L939.4 178.2L939.4 171.6Z"/>
<path fill="#B4FAAA" d="M680.7 379.8L699.8 371.8L712.5 370.3L699.8 378.2L683.9 386.2Z"/>
<path fill="#B4FAAA" d="M682.3 397.3L701.4 387.8L720.5 383L707.8 391L685.5 403.7Z"/>
<path fill="#B4FAAA" d="M693.6 266.6L719.8 262.2L746 264.4L754.8 273.1L732.9 281.8L711.1 286.2L698 279.7Z"/>
<path fill="#F0DCB4" d="M952.1 158.9L955.4 159.9L955.9 162.2L958.2 164.1L967.6 161.1L974.2 164.1L971.4 164.3L965.8 164.1L958.2 165.8L953.5 165.1Z"/>
<path fill="#78F573" d="M946.5 172.1L949.8 171.8L949.9 174.7L946.7 174.9Z"/>
<path fill="#78F573" d="M605.9 427.8L612.8 425L614.2 429.9L607.3 432.7Z"/>
<path fill="#78F573" d="M649 426.4L660.1 420.9L678.2 416.7L679.6 422.2L665.7 427.8L651.8 430.6Z"/>
<path fill="#78F573" d="M632.3 426.4L643.4 422.2L646.2 426.4L635.1 432Z"/>
<path fill="#78F573" d="M637.9 405.6L657.3 398.6L679.6 397.2L682.3 402.8L665.7 405.6L649 411.1Z"/>
<path fill="#78F573" d="M587.8 402.8L601.7 397.2L604.5 400L592 407Z"/>
<path fill="#B4FAAA" d="M560 416.7L568.3 408.3L575.3 402.8L576.7 408.3L568.3 416.7L560 423.6Z"/>
<path fill="#B4FAAA" d="M562.8 432L573.9 423.6L576 427.8L568.3 434.8Z"/>
<path fill="#B4FAAA" d="M840 288.1L849 286.6L860.9 274.7L872.8 277.7L871.3 289.6L854.9 303L853.4 319.4L840 332.8L831.1 319.4L840 307.5Z"/>
<path fill="#B4FAAA" d="M715.7 371.8L730.1 365.5L755.5 366.3L758.7 371.1L771.5 371.8L761.9 381.4L749.2 387.8L739.6 392.5L730.1 384.6L722.1 376.6Z"/>
<path fill="#F0DCB4" d="M682.3 403.7L699.8 395.7L712.5 389.4L726.9 385.4L739.6 393.3L749.2 403.7L753.9 414.8L749.2 422.8L723.7 429.2L691.8 438.7L688.7 422.8L686.3 414.8Z"/>
<path fill="#78F573" d="M715.7 371.8L730.1 365.5L755.5 365.5L757.1 369.5L746 373.4L734.8 378.2L725.3 379.8L720.5 375.8Z"/>
<path fill="#78F573" d="M543.5 397.2L558.4 384.8L573.3 374.9L580.7 372.4L580.7 382.3L563.4 394.8L548.5 401Z"/>
<path fill="#B4FAAA" d="M689.2 424.6L704.1 414.7L719 407.2L729 402.3L724 409.7L709.1 417.2L694.2 429.6Z"/>
<path fill="#B4FAAA" d="M701.6 402.3L719 394.8L733.9 387.4L729 397.3L714.1 404.8Z"/>
<path fill="#B4FAAA" d="M719 461.9L729 458.1L736.4 459.4L729 464.3L721.5 466.8Z"/>
<path fill="#B4FAAA" d="M726.5 474.3L738.9 469.3L753.8 468.1L758.7 474.3L751.3 481.7L753.8 489.2L743.9 494.1L733.9 494.1L729 486.7L726.5 480.5Z"/>
<path fill="#B4FAAA" d="M731.4 494.1L743.9 494.1L758.7 499.1L761.2 509L751.3 506.5L741.4 501.6L733.9 499.1Z"/>
<path fill="#B4FAAA" d="M699.8 410.1L712.5 403.7L730.1 398.9L742.8 400.5L731.7 406.9L712.5 411.7Z"/>
<path fill="#B4FAAA" d="M688.7 422.8L701.4 418L711 416.4L707.8 421.2L691.8 427.6Z"/>
<path fill="#78F573" d="M729 476.8L738.9 473L740.1 479.2L731.4 483Z"/>
<path fill="#B4F0FA" d="M65 192.5L74 192L74.5 195.7L66.5 196.5Z"/>
<path fill="#B4F0FA" d="M33.5 200.7L38.5 200.7L38.5 205.7L33.5 205.7Z"/>
<path fill="#B4F0FA" d="M65 215.6L70.8 213.8L69.5 219.3L63.3 222.3Z"/>
<path fill="#B4F0FA" d="M23.1 236.7L27.3 236.7L27.8 242.1L23.6 242.1Z"/>
<path fill="#B4F0FA" d="M29.8 245.4L37.2 245.4L37.2 249.6L29.8 249.6Z"/>
<path fill="#B4F0FA" d="M202.3 215.6L211 215.6L211 221.8L202.3 221.8Z"/>
<path fill="#B4F0FA" d="M70.2 145.8L75.6 145.8L76.3 158.8L71.2 159.1Z"/>
<path fill="#B4F0FA" d="M268.6 229.2L279.8 230.5L281 237.9L272.3 236.7Z"/>
<path fill="#B4F0FA" d="M646.5 283.9L658.9 281.4L673.8 283.9L673.8 293.8L646.5 293.8Z"/>
<path fill="#B4F0FA" d="M616.7 205.7L620.4 205.7L620.4 210.6L616.7 210.6Z"/>
<path fill="#B4F0FA" d="M702.3 198.2L708.5 197.5L708.5 200.7L702.3 201.4Z"/>
<path fill="#B4F0FA" d="M948.6 192L956.1 184.5L963.5 187L966 194.5L980.9 197L985.8 201.9L973.4 206.9L963.5 204.4L958.5 211.9L948.6 214.3L938.7 211.9L928.7 214.3L921.3 219.3L913.9 229.2L908.9 236.7L903.9 236.7L908.9 224.3L916.3 214.3L923.8 206.9L936.2 201.9Z"/>
<path fill="#B4F0FA" d="M897.7 250.3L907.6 249.1L908.9 257.8L899 259Z"/>
<path fill="#B4F0FA" d="M861.7 249.1L869.2 247.9L867.9 252.8L861.2 255.3Z"/>
<path fill="#B4F0FA" d="M923.8 240.4L928.7 240.4L928.7 244.1L923.8 244.1Z"/>
<path fill="#B4F0FA" d="M28.6 252.4L49.7 254.9L64.5 262.3L67 269.8L57.1 272.3L49.7 279.7L39.7 287.2L29.8 282.2L24.8 272.3Z"/>
<path fill="#B4F0FA" d="M77 284.7L89.4 292.1L104.3 312L119.2 324.4L126.6 339.3L129.1 351.7L121.6 356.7L114.2 344.3L106.8 334.3L96.8 317L84.4 302.1Z"/>
<path fill="#B4F0FA" d="M101.8 374.1L116.7 375.3L131.6 379L149 381.5L158.9 393.9L161.4 406.3L149 408.8L141.5 398.9L131.6 389L116.7 381.5L104.3 379Z"/>
<path fill="#B4F0FA" d="M67 341.8L74.5 341.8L74.5 351.7L67 351.7Z"/>
<path fill="#B4F0FA" d="M86.9 359.2L96.8 359.2L96.8 364.1L86.9 364.1Z"/>
<path fill="#B4F0FA" d="M233.4 254.9L242.1 253.7L243.4 264.8L237.2 272.3L233.4 264.8Z"/>
<path fill="#B4F0FA" d="M252.1 269.8L271.9 269.3L274.4 273.5L257 276Z"/>
<path fill="#B4F0FA" d="M249.6 283.4L262 284.7L264.5 292.1L254.5 289.7Z"/>
<path fill="#B4F0FA" d="M227.2 302.1L234.7 299.6L239.7 304.5L232.2 312L227.2 309.5Z"/>
<path fill="#B4F0FA" d="M234.7 315.7L245.9 313.2L244.6 319.4L235.9 323.2Z"/>
<path fill="#B4F0FA" d="M202.4 325.7L222.3 321.9L229.7 325.7L214.8 329.4L202.4 329.4Z"/>
<path fill="#B4F0FA" d="M271.9 318.2L278.1 318.2L278.1 321.9L271.9 321.9Z"/>
<path fill="#B4F0FA" d="M299.2 319.4L309.2 314.5L319.1 321.9L324.1 328.1L314.1 326.9L301.7 325.7Z"/>
<path fill="#B4F0FA" d="M304.2 389L319.1 384L339 380.3L341.4 389L331.5 398.9L319.1 403.9L309.2 413.8L286.8 413.8L288.1 398.9L296.8 393.9Z"/>
<path fill="#B4F0FA" d="M339 356.7L345.2 356.7L345.2 361.6L339 361.6Z"/>
<path fill="#B4F0FA" d="M199.9 338.1L207.4 338.1L208.6 349.2L201.2 350.5Z"/>
<path fill="#B4F0FA" d="M195 353L204.9 351.7L207.4 359.2L197.4 369.1L193.7 364.1Z"/>
<path fill="#B4F0FA" d="M209.9 366.6L219.8 369.1L221 376.5L212.3 375.3Z"/>
<path fill="#B4F0FA" d="M227.2 359.2L239.7 361.6L252.1 374.1L257 384L249.6 389L239.7 379L229.7 371.6Z"/>
<path fill="#B4F0FA" d="M239.7 389L254.5 391.4L257 398.9L244.6 398.9Z"/>
<path fill="#B4F0FA" d="M596.4 312L603.9 302.1L618.7 295.9L633.6 289.7L663.4 287.2L678.3 293.4L678.3 304.5L663.4 312L646.1 314.5L636.1 321.9L693.2 314.5L693.2 338.1L636.1 339.3L613.8 339.3L611.3 334.3L598.9 321.9Z"/>
<path fill="#B4F0FA" d="M559.2 338.1L569.1 329.4L584 321.9L593.9 319.4L589 326.9L579 334.3L569.1 339.3Z"/>
<path fill="#B4F0FA" d="M613.8 356.7L623.7 346.8L646.1 343L668.4 344.3L663.4 351.7L643.6 354.2L628.7 359.2Z"/>
<path fill="#B4F0FA" d="M531.9 369.1L539.3 364.1L549.2 359.2L556.7 360.4L544.3 366.6L534.3 372.8Z"/>
<path fill="#B4F0FA" d="M529.4 345.5L539.3 344.3L534.3 349.2Z"/>
<path fill="#B4F0FA" d="M507 356.7L521.9 349.2L524.4 353L512 361.6Z"/>
<path fill="#B4F0FA" d="M574.1 303.3L584 300.8L582.8 305.8L574.1 307.5Z"/>
<path fill="#B4F0FA" d="M687.5 314.5L697.4 312L709.9 317L717.3 324.4L704.9 329.4L687.5 334.3Z"/>
<path fill="#B4F0FA" d="M687.5 349.2L699.9 345.5L712.3 346.8L722.3 349.2L739.7 344.3L742.1 348L727.2 356.7L714.8 361.6L699.9 366.6L687.5 366.6Z"/>
<path fill="#B4F0FA" d="M722.3 369.1L737.2 367.9L739.7 374.1L727.2 376.5Z"/>
<path fill="#B4F0FA" d="M755.8 349.2L760.8 348.7L761.3 354.2L756.3 354.7Z"/>
<path fill="#B4F0FA" d="M897.3 249.9L906 249.9L906.5 257.4L898 257.4Z"/>
<path fill="#B4F0FA" d="M861.3 248.7L867.5 247.4L867.5 252.4L861.3 253.7Z"/>
<path fill="#B4F0FA" d="M261.6 404.8L271.5 403.6L281.4 409.8L281.9 429.7L256.6 429.7L259.1 419.7L264.1 412.3Z"/>
<path fill="#B4F0FA" d="M285.2 394.9L303.8 389.9L318.7 385L336.1 380L338.5 389.9L328.6 399.9L318.7 409.8L308.7 417.2L298.8 422.7L283.9 430.9L284.4 409.8Z"/>
<path fill="#B4F0FA" d="M127.5 387.4L139.9 377.5L157.3 377.5L159.8 394.9L162.3 407.3L147.4 407.8Z"/>
<path fill="#B4F0FA" d="M650.8 397.3L664.4 394.8L674.3 396.1L664.4 399.8L652 401Z"/>
<path fill="#B4F0FA" d="M724 370L738.9 367.5L738.9 373.7L726.5 376.2Z"/>
<path fill="#B4F0FA" d="M212.6 149.5L221.3 149.5L221.3 158.2L212.6 158.2Z"/>
<path fill="#B4F0FA" d="M723.7 370.3L736.4 367.9L739.6 371.1L728.5 375.8Z"/>
<path fill="#B4F0FA" d="M702.3 314.6L719.8 312.4L728.6 321.2L719.8 327.7L702.3 329.9L689.2 334.3L676.1 332.1L684.9 323.4Z"/>
<path fill="#B4F0FA" d="M612.8 347.4L645.5 344.1L671.8 346.3L684.9 351.8L671.8 358.3L645.5 356.1L623.7 360.5L610.6 358.3Z"/>
<path fill="#78B9FA" d="M951.1 187L961 185L959.8 193.2L952.3 194.5Z"/>
<path fill="#78B9FA" d="M923.8 209.4L938.7 203.2L946.1 204.4L933.7 210.6L923.8 215.6Z"/>
<path fill="#78B9FA" d="M912.6 216.8L921.3 213.1L918.8 221.8L912.6 223Z"/>
<path fill="#78B9FA" d="M33.5 254.9L47.2 257.4L49.7 264.8L42.2 272.3L34.8 269.8Z"/>
<path fill="#78B9FA" d="M111.7 325.7L121.6 326.9L126.6 339.3L124.1 349.2L116.7 341.8L113 334.3Z"/>
<path fill="#78B9FA" d="M89.4 307L99.3 309.5L101.8 314.5L91.9 313.2Z"/>
<path fill="#78B9FA" d="M131.6 379L141.5 380.3L142.8 385.2L132.8 384.5Z"/>
<path fill="#78B9FA" d="M139 389L145.2 389L146.5 396.4L140.3 396.4Z"/>
<path fill="#78B9FA" d="M153.9 398.9L158.9 398.9L160.1 406.3L155.2 406.3Z"/>
<path fill="#78B9FA" d="M257 270.3L269.4 269.8L269.9 273.5L258.3 274.3Z"/>
<path fill="#78B9FA" d="M252.1 284.7L259.5 285.2L259.5 288.4L252.6 288.4Z"/>
<path fill="#78B9FA" d="M216.1 323.2L223.5 320.7L224.3 325.7L216.8 327.4Z"/>
<path fill="#78B9FA" d="M235.9 317L243.4 314.5L243.4 318.9L236.7 321.4Z"/>
<path fill="#78B9FA" d="M314.1 324.4L319.1 324.4L319.6 328.1L314.6 328.1Z"/>
<path fill="#78B9FA" d="M288.1 395.2L294.3 393.9L295.5 398.9L289.3 400.1Z"/>
<path fill="#78B9FA" d="M299.2 401.4L306.7 400.1L307.9 408.8L300.5 410.1Z"/>
<path fill="#78B9FA" d="M335.2 393.9L339 393.9L339.5 398.9L335.7 398.9Z"/>
<path fill="#78B9FA" d="M211.1 369.1L218.6 370.3L218.6 375.3L211.8 374.6Z"/>
<path fill="#78B9FA" d="M229.7 362.9L239.7 366.6L238.4 370.3L229.7 366.6Z"/>
<path fill="#78B9FA" d="M616.3 307L623.7 302.1L638.6 300.8L643.6 305.8L631.2 309.5L618.7 310.8Z"/>
<path fill="#78B9FA" d="M648.5 300.8L663.4 299.6L664.7 305.8L651 307Z"/>
<path fill="#78B9FA" d="M265.3 404.8L270.3 404.8L271.5 409.8L266 411Z"/>
<path fill="#78B9FA" d="M274 421L280.2 419.7L280.9 427.2L275.2 427.7Z"/>
<path fill="#78B9FA" d="M265.3 417.2L269 417.2L269 422.2L265.3 422.2Z"/>
<path fill="#78B9FA" d="M288.9 396.1L295.1 394.9L296.3 401.1L290.1 401.8Z"/>
<path fill="#78B9FA" d="M301.3 401.1L308.7 402.3L307.5 409.8L301.3 408.6Z"/>
<path fill="#FFFFFF" d="M99.3 133.7L134.1 133.7L136.5 141.1L142.8 144.8L148.5 143.6L148.5 175.9L139 173.4L129.1 175.9L119.2 180.8L106.8 182.1L105.5 173.4L109.2 167.2L105.5 161L96.8 159.7L88.1 156L86.9 149.8L95.6 143.6Z"/>
<path fill="#FFFFFF" d="M84.4 167.2L90.6 164.7L95.6 169.7L91.9 176.6L85.7 174.6Z"/>
<path fill="#FFFFFF" d="M150.2 144.8L163.9 142.3L165.1 152.3L171.3 157.2L173.8 169.7L163.9 175.9L153.9 173.4L150.2 167.2Z"/>
<path fill="#FFFFFF" d="M166.3 134.4L198.6 134.4L198.6 142.3L191.2 147.3L198.6 154.8L196.1 159.7L183.7 157.2L173.8 149.8L166.3 144.8Z"/>
<path fill="#FFFFFF" d="M188.7 193.2L198.6 190.8L206.1 197L198.6 200.7L189.9 199.4Z"/>
<path fill="#FFFFFF" d="M103 203.2L111.7 201.9L113 209.4L104.3 209.9Z"/>
<path fill="#FFFFFF" d="M126.6 224.3L130.3 224.3L130.3 229.2L126.6 229.2Z"/>
<path fill="#FFFFFF" d="M72.4 182.2L81.8 182L82.2 185.9L73.1 186.3Z"/>
<path fill="#FFFFFF" d="M333.2 149.8L341.9 143.6L351.8 146.1L350.5 153.5L341.9 154.8L335.7 154.3Z"/>
<path fill="#FFFFFF" d="M354.3 134.9L366.2 134.4L366.2 139.9L356.8 138.6Z"/>
<path fill="#FFFFFF" d="M355.5 154.8L366.2 152.3L366.2 163.4L359.2 161Z"/>
<path fill="#FFFFFF" d="M362.2 175.9L366.2 175.9L366.2 179.1L362.2 179.1Z"/>
<path fill="#FFFFFF" d="M368.7 134.9L376.6 134.9L379.1 147.3L387.8 153.5L384.1 159.7L369.2 164.7Z"/>
<path fill="#FFFFFF" d="M394 162.2L399 162.2L399 165.9L394 165.9Z"/>
<path fill="#FFFFFF" d="M447.4 153.5L456.1 153.5L456.1 157.2L447.4 157.2Z"/>
<path fill="#FFFFFF" d="M452.3 161L463.5 163.4L464.7 170.9L456.1 169.7Z"/>
<path fill="#FFFFFF" d="M478.4 167.2L484.6 167.2L484.6 174.6L478.4 174.6Z"/>
<path fill="#FFFFFF" d="M504.5 180.8L509.9 179.6L510.4 185L505 185.8Z"/>
<path fill="#FFFFFF" d="M362.5 315.7L386.1 314.5L398.5 318.2L397.3 321.9L383.6 323.2L373.7 329.4L363.8 328.1Z"/>
<path fill="#FFFFFF" d="M374.5 442.1L380.7 440.8L380.7 454.5L374.5 452Z"/>
<path fill="#FFFFFF" d="M373.4 445.7L387.1 441.9L399.5 439.4L404.5 446.9L402 454.3L392.1 455.6L384.6 461.8L378.4 459.3L377.2 451.9Z"/>
<path fill="#FFFFFF" d="M431.8 449.4L441.7 437L454.1 427L469 424.5L475.2 428.3L464.1 439.4L454.1 446.9L464.1 445.7L465.3 454.3L459.1 459.3L469 464.3L476.5 469.2L472.8 476.7L467.8 481.6L466.5 491.6L471.5 499L471.5 509L464.1 518.9L449.2 511.4L443 495.3L434.3 479.2L425.6 466.8L423.1 459.3Z"/>
<path fill="#FFFFFF" d="M488.9 441.9L501.3 434.5L503.8 419.6L516.2 410.9L533.6 409.7L534.8 418.3L541 427L541 444.4L537.3 454.3L523.6 455.6L513.7 466.8L501.3 474.2L488.9 476.7L486.4 469.2L488.9 459.3Z"/>
<path fill="#FFFFFF" d="M483.9 425.8L493.9 420.8L495.1 424.5L486.4 430.8Z"/>
<path fill="#FFFFFF" d="M476.5 439.4L482.7 439.4L482.7 442.4L476.5 442.4Z"/>
<path fill="#FFFFFF" d="M538.5 414.6L553.4 415.9L558.4 420.8L548.5 429.5L541 427Z"/>
<path fill="#FFFFFF" d="M715.3 435.8L729 429.6L741.4 424.6L751.3 419.7L753.8 423.4L746.3 432.1L745.1 439.5L733.9 442L719 439.5Z"/>
<path fill="#FFFFFF" d="M751.3 523.9L763.7 522.7L766.2 528.9L758.7 531.4L752.5 528.9Z"/>
<path fill="#FFFFFF" d="M765 511.5L769.9 511.5L769.9 516.5L765 516.5Z"/>
<path fill="#FFFFFF" d="M580 454.4L587.4 454.4L587.4 459.4L580 459.4Z"/>
<path fill="#FFFFFF" d="M750.6 525.8L758.7 524L766 528.5L766.9 530.3L760.5 534.8L752.4 533.5Z"/>
</g>
</g>
</g>
<g clip-path="url(#ce)">
<g transform="rotate(-33 600 340)">
<g filter="url(#streak)">
<g transform="rotate(33 600 340)">
<use href="#regs"/>
</g>
</g>
</g>
</g>
</g>
<g fill="none" stroke="#262626" stroke-width="1.3" stroke-linejoin="round">
<path d="M31.8 179.4L40.2 179.4L45.2 181.1L49.4 181.9L52.8 189.5L60.3 191.2L73.8 188.7L78.8 190L90.6 188.7L105.7 185L115.8 184.8L116.1 183.6L150.8 183.6M148.8 133.3L148.8 176.6L150.8 183.6M150.8 183.6L157.8 192L154.5 197L152 201.2L148.6 204.6L146.1 210.5L150.3 213.8L148.9 220.5L148.9 250.7M28.4 250.7L249.4 250.7M99 250.7L99 301.1L189.3 368.2M189.3 368.2L190.3 365.7L188.4 359.8L187.4 350.6L193.1 348.9L199.2 348.2L199.2 250.7M189.3 368.2L189.8 370.7L192.3 373.2L194 377.4L197.5 379.9L194.8 382.5L190.6 391.7L188.1 396.7L191.5 401.8L189.4 406.3L187.8 406.5M199.2 334.6L525.6 334.6M249.4 250.7L249.4 267.5L283.1 267.5L283.1 334.6M249.4 250.7L249.4 200.4M249.4 209.1L243.6 204.6L241.9 208L233.5 208L220 211L216.7 208.8L212.5 203.8L209.1 199.6L204.1 194.5L200.7 188.7L190.6 191L194 185.3L192.3 180.3L194 172.7L184.7 168.5L178 162.6L171.3 159.3L170.4 155.1L165.4 150.1L165.4 133.3M249.4 200.4L367.1 200.4M367.1 133.3L367.1 267.5M367.1 184.6L493 184.6M367.1 234L460.4 234L463.8 235.6L470.5 237.3L478.9 236.1L485.6 238.2L492.4 242.3L494.9 242.3M283.1 267.5L400.7 267.5L400.7 334.6M400.7 284.3L514.2 284.3M384.8 334.6L384.8 343L435.2 343L435.2 375.6M384.1 343L383.8 418.5L323.9 418.5L325.4 422.2M435.2 375.6L440.2 378.3L448.6 381.6L458.7 382.5L467.1 382.8L469.7 387L482.3 389.2L487.3 385.8L495.7 388.8L505.8 387.5L515.9 385.8L528 391L535.4 392.5L535.4 418.7L537.7 420.2L543.6 432L541.1 442L540.3 450.4L538.6 457.1M528 391L528.8 361.5L525.6 343L525.6 299.1L520.9 295.2L517.6 291L520.9 287.7L514.2 284.3L506.6 274.2L505 267.5L503.6 263.3L500.8 255.8L497.4 247.4L494.9 242.3L492.4 232.3L494.9 225.6L494.9 195.4L488.2 190.3L492.7 184.6L489.8 173.6L489.3 168.9L485.1 151.2L483.1 141.7L481.8 133.3M535.4 401.8L583.6 401.8M525.6 343L600.8 343L597.1 351.4L608.3 351.4M506.3 274.6L574.2 274.2L579.3 277.9M494.9 225.6L582.8 225.6M582.8 225.6L582.3 220.5L574.7 215.5L564.6 208L556.2 204.6L557.1 200.4L558.8 193.7L554.6 188.7L564.6 182.4L564.8 172.5L568 171.5M582.8 225.6L584 234L592.4 242.3L600.8 249.1L599.9 254.1L594.9 259.1L585.6 260.5L584.8 270.9L579.3 277.9L579.8 285.5L580.6 289.3L591.5 296.9L591.5 302.8L600.8 303.1L600.3 307.3L597.4 314.5L603.3 318.7L605.8 319.5L611.7 329.6L617.9 334.6L615.1 341.4L611.7 343L608.3 347.2L608.3 351.4L604.1 359.8L602.1 366L598.3 370.7L593.6 376.6L588.2 383.3L584.8 390L584 395.9L583.6 401.8L588.2 413.5L579.8 426.1L575.9 435.3L607.8 435.3L605.8 441.2L610 449.2M592.5 242.3L640.3 242.3M630.2 446.2L629 420.4L635.2 369.9L633.6 368.2M598.3 368.2L698.8 368.2L719.3 368.2M677.3 368.2L684.3 403.9L687.3 413.5L686.5 426.1L687.3 435.3L689.7 440.4M687.3 435.3L643.6 435.3L647 441.2L646.2 445.4L645 447.4M689.7 440.4L734.4 442.5L736.9 446.1L737.8 439.5L739.5 438.7L747 440.4M756.3 418L751.2 410.1L746.2 400.9L738.6 393.4L727.7 385L719.3 374.9L715.1 373.2L719.3 368.2M719.3 368.2L731.1 364.8L753.7 365.7L753.7 367.4L755.8 366.5L758 371.2L776.9 371.6L795.8 387.5M698.8 368.2L703.3 363.2L712.6 358.6L721.8 352.3L727.7 350.6L736.9 349.7L742.8 345.5L743.2 341.5M743.2 341.5L840.8 342.2M743.2 341.5L709.5 341.4L635.7 340L635.7 343L611.7 343M709.5 341.4L737.8 325.7L738.3 325.6M738.3 325.6L749.5 329.6L766.4 325.9L772.2 317.9L779.8 309.5L790.4 304.9L799.1 293.5L807.9 298.9L809.7 295.7M738.3 325.6L727.7 311.1M762.7 273.6L760.5 277.6L759.3 283.1L757.1 289.3L751.2 294.4L745.3 296.5L742 301.1L737.8 301.9L735.3 303.6L730.2 310.8L727.9 311.1L721 305.6L708.4 307L695.8 299.4L690.4 299.4L689.9 304.4L680.6 305.8L674.7 313.3L665.5 317.9L662.1 319L652 321.6L644.1 318.7L636.4 321.2L629.4 327.9L626.8 333.3L617.9 334.6M636.4 321.2L638.6 312.8L644.8 306.4L644.8 295.2L644.8 255.4M690.4 299.4L690.4 255.8M657.1 254.8L690.4 255.8L713.4 255.3M762.7 251.1L762.7 289M762.7 289L842.2 289M780.1 289L780.1 297.7L783.2 296L791.6 291L798.3 290.7L801.7 289.3L807.5 291L809.7 295.7L813.4 297.7L816.8 300.2L821 302.8L817.6 311.1L822.7 312.8L833.3 317.2M848.4 287.7L845.4 287L842.2 289L842.2 310.3L854.6 310.3M848.4 287.7L853.3 285.1L859.7 280.9L854.6 277.6L852.1 272.6L853.4 268L860.5 261.6L849.6 250.7L775.4 250.7L775.4 246.2M860.5 261.6L873.9 267.5M878.1 267.5L880.7 264.2L879.8 262.5L881 249.9L884.5 238.2L884.9 224.7L882.3 223.9L883.2 213.8L883.2 200.4M880.7 249.9L909.2 250.4L916.3 250.4L917.1 252.4L919.3 256.3L920.7 259.1M909.2 250.4L909.2 260.8L908.2 262.3M884.5 238.2L917.6 239L918.5 238.3L922.7 236.1L925.7 236.1M898.1 238.5L899.2 228.9L902.5 220.5L905 212.1L912.6 208.8L914.3 200.2M927.7 232.8L923.2 228.1L922.7 223.9L921.3 195.4M596.2 174.1L618.4 181.4L635.2 185L639.4 194.5L643.6 198.7M283.1 334.6L283.1 429.8"/>
<path d="M19.5 143.7L29 146.1L37.6 147.5L46.3 146.8L49.9 148.2L51.4 151.1L48.5 155.5L46.6 159.4L47.8 163.1L51 164.6L54.7 163.1L57.2 161.3L59.1 157.9L57.9 154L60.5 150.4L59.1 146.8L55.7 143.9L56.7 140.3L54.3 136.6L52.4 133.3L516.7 133.3L516.7 126.9L522.6 127.9L524.3 137L539.4 140.8L546.1 140L561.3 143.3L569.7 145.9L578.1 148.9L589.9 146.7L603.3 148.4L611.9 149.9L594.9 155.1L581.4 162.6L569.7 170.2L568 171.5L578.1 170.5L589 167.7L590.7 172.7L596.2 174.1L606.7 169.9L616.7 168.5L621 166L630.2 160.5L640.3 159L636.9 163.5L629.4 167.7L629.4 170.7L638.6 168.5L647 174.4L660.5 176.1L670.5 172.4L687.3 170.7L688.2 175.2L694.1 175.7L698.3 175.2L702.5 180.3L710.9 183.6L705.8 184.5L692.4 185.3L691.9 186.1L678.9 182.3L665.5 184.5L660.5 186.1L661.3 190.3L657.1 187.8L652.9 187.8L643.6 198.7L636.9 208L641.1 206.3L653.4 195.5L648.7 202.9L645.3 210.5L642.8 215.5L642 221.4L638.6 233.3L640.3 242.3L643.6 253.3L645.3 255.8L648.7 257.1L655.4 255.4L657.1 254.8L662.1 249.1L665.8 244L667.2 237.7L665 230.1L661.5 223.1L662 216.2L665 213L666.7 206.6L669.4 202.1L678.1 197L676.9 204.3L681 196.2L683 195L688.2 194.2L685.7 190.3L691.9 187.3L696.3 189.5L707.5 193.4L713.7 199.4L715.9 202.1L715.6 210.1L712.6 216.3L705.8 218.9L706.2 223.1L714.2 218.9L721.8 216L727 219.7L730.7 234L729.4 240.7L723.5 243.2L720.1 245.4L718.4 249.9L713.4 255.3L721 260L726 260L742.8 259.1L754.6 253.3L762.7 251.1L770.1 248.2L775.4 246.2L782.3 242.3L789.9 236L787.4 229.6L796.6 227.8L811.7 229.4L821.8 229.3L830.2 226.1L835.3 224.7L833.6 219.7L832.8 215L847 205.4L857.1 200.7L860.5 200.4L914.3 200.2L921.3 195.4L925.2 196.2L932.8 188.2L935.3 184.5L934.5 180.3L938.7 176.6L952.4 159.1L955.5 161.8L958 163.8L968.1 160.8L976.7 165.7L976.8 184.8L977.3 187L982.7 190.3L982.4 195.4L985.2 197.2L989.1 202.1L990.8 203.4L979.8 208.8L969.8 212.1L959.7 208.8L954.6 217.2L942.9 221.4L935.3 223.1L930.3 228.9L927.7 232.8L926.1 235.6L929.4 239.8L922.7 244.9L927.7 247.4L928.6 251.6L931.1 254.6L939.5 254.4L936.1 249.6L940.3 252.4L940.3 256.3L932.8 257.1L928.6 258.8L926.9 255.8L921 259.1L914.3 261.5L908.2 262.3L904.2 262.5L890.8 263.3L885.7 265L878.1 267.5L873.9 270.9L879 269.2L895.8 268L901.7 265L908.2 266.3L897.5 270L885.7 273.7L873.1 274.7L872.3 276.4L871.4 284.3L870.6 288.5L865.2 295L856.6 302.3L853.8 297.7L846.2 292.7L846.2 289.3L848.7 296L850.4 301.9L853.9 304.4L853 304.7L854.7 309.1L852.1 313.4L845.1 322.1L838.4 332.5L839.9 325L842.5 318.6L839.9 312.5L841.7 304.7L840.5 297L839.9 292.6L838.2 291.7L832.1 296L829.5 304.7L832.1 311.7L823.4 316L832.1 320.4L823.4 329L832.1 330.8L826.9 336L837.3 337.7L839.9 341.2L840.8 342.1L842.5 346.4L839 344.7L832.1 346.4L824.3 344.7L826 351.6L833.8 353.4L840.8 351.6L843.4 356L839 358.6L832.1 356.8L830.4 359.4L820.8 359.4L829.5 362.9L821.7 367.3L832.1 369.9L830.4 374.2L824.3 372.5L821.8 374.1L813.4 378.3L805.9 387.5L795.8 387.5L789.9 390L784.8 398.4L773.1 406.8L763.8 413.5L759.6 416L756.3 418L751.2 426.9L747.9 435.3L747 440.4L747.9 445.4L749.5 453.8L754.6 465.5L762.2 478.1L761.3 485.7L765.5 492.4L770.9 507.5L769.2 523.1L765.5 531L764.7 532.6L752.9 534L752.1 529.3L748.7 522.6L741.1 516.7L737.8 510.8L733.6 506.6L728.5 497.4L726 492.4L730.2 487.3L724.3 488.2L723.5 485.7L726.9 473.9L720.1 466.7L714.2 458L709.2 452.9L700.8 450.9L687.3 458L681.1 457.6L675.6 450.1L662.1 445.7L650.4 446.6L645.3 447.4L636.9 448.2L638.6 441.2L636.1 440.7L635.2 446.2L630.2 446.2L621.8 445.4L615.1 447.1L610 449.2L613.4 451.3L616.7 449.6L609.2 454.6L613.4 456.3L610 460.5L615.9 463.8L619.3 468.9L613.4 470.1L613.4 467.2L606.7 463.8L603.3 464.7L599.9 467.2L593.2 468L586.5 466.4L581.4 464.7L579.8 460.5L572.2 460.5L569.7 459.7L564.6 460L559.6 459.1L549.5 456L538.6 457.1L529.3 459.7L523.5 463L524.3 456.3L519.2 457.1L522.6 463.8L517.6 467.5L514.2 470.1L503.3 475.3L495.7 478.9L489 482.3L484.8 488.5L482.3 492.4L479.7 497.4L479.7 505.8L482.3 514.2L483.1 519.9L477.2 521.2L465.5 518.4L455 513L452 512.5L447.5 504.1L443.6 494L437.7 489L430.2 481L426.8 473.9L420.1 463L411.7 456L409.1 455.5L396.5 454.1L389.8 457.1L388.1 462.2L382.2 469.4L375.5 466.4L368 463.8L361.2 459.7L356.2 450.4L352.8 442.9L344.4 437.8L334.3 428.6L325.9 422.7L325.4 422.2L297.2 422.2L297.2 429.8L249.1 429.8L186.2 410.3L187.8 406.5L147.4 409.6L145.2 406.8L144.7 404.3L142.7 398.4L137.7 394L129.3 389.2L125.9 389.2L124.2 385L119.2 385L111.6 382.5L104 378.3L91.1 377.4L88.1 375.2L88.4 368.2L84.4 362L77.5 357L68.7 347.2L66.6 340.8L68.7 338L64.9 335.3L58.7 331.3L57 326.2L56.6 321.6L48.6 317.9L47.7 312.8L36.8 301.9L35.1 292.7L25 276.9L28.4 270.9L29.2 266.7L28.4 254.9L28.4 250.7L22.5 236.6L26.7 227.2L29.2 217.2L30.6 206.6L32.3 192L31.8 179.8L30.9 172.7L30.1 167.7L26.7 161L21.2 151.7Z" stroke-width="0.85"/>
<path d="M841.5 343L844 349L846.9 356.8M839 365.5L843 364.8L846.9 363.8M832 371L836 368" stroke-width="0.9"/>
</g>
<path d="M49.9 156.9L54.3 154L56.2 156.9L53.9 160.8L50.2 161.7Z" fill="#F0DCB4" stroke="#222" stroke-width="0.9"/><path d="M53.6 141.7L55.7 144.6L57.2 149L55.3 151.1L54.1 147.5L53 143.9Z" fill="#F0DCB4" stroke="#222" stroke-width="0.9"/><path d="M46 140.2L48 140.6L48.2 142.2L46.2 142Z" fill="#F0DCB4" stroke="#222" stroke-width="0.9"/><path d="M59 316.5L71.6 315.6L72.5 317.1L61.1 318.3L60.5 322.5L64.1 326.9L62 327.5L58.5 322.5Z" fill="#FFFFFF" stroke="#222" stroke-width="0.9"/><path d="M95.4 385.5L100 383.8L105.9 384.6L101 386.4Z" fill="#B4FAAA" stroke="#222" stroke-width="0.9"/><path d="M122.3 393L125.5 392.6L126.7 395.3L123.6 395Z" fill="#B4FAAA" stroke="#222" stroke-width="0.9"/><path d="M122.3 401.7L124 401.5L126.7 405.8L125 406Z" fill="#B4FAAA" stroke="#222" stroke-width="0.9"/><path d="M616.7 152.5L622 149.5L628.6 147L629 148.2L623 151.5L617.5 153.5Z" fill="#F0DCB4" stroke="#222" stroke-width="0.9"/><path d="M596.3 449L598.5 446.6L603 446L606 447.5L604.5 450.5L600 451.6Z" fill="#FFFFFF" stroke="#222" stroke-width="0.9"/><path d="M925.4 261.6L928 260.2L930.8 260.8L929.5 262.2L926.5 262.3Z" fill="#78F573" stroke="#222" stroke-width="0.9"/><path d="M936.3 262.2L938.5 261.3L940.1 262L939 263.1L937 263Z" fill="#78F573" stroke="#222" stroke-width="0.9"/><path d="M915.6 255.4L917.4 255.8L919.6 259.4L917.2 259L916 257.5Z" fill="#FFFFFF" stroke="#222" stroke-width="0.9"/><path d="M30.1 167L34 166.6L32.1 169.9Z" fill="#FFFFFF" stroke="#222" stroke-width="0.9"/><path d="M30.4 173.3L33.6 171.8L33.6 177.6L31 178.2Z" fill="#FFFFFF" stroke="#222" stroke-width="0.9"/>
<rect x="228.5" y="570.5" width="549.5" height="66" fill="#fff" stroke="#6e6e6e" stroke-width="1.2"/>
<text class="lgt" x="503.8" y="593.1" text-anchor="middle">Rainfall (in.)</text>
<rect x="235.5" y="602.7" width="11.5" height="11.5" rx="0.7" fill="#FFFFFF" stroke="#5c5c5c" stroke-width="1.1"/>
<text class="lg" x="254.4" y="612.6">&lt; 0.04</text>
<rect x="235.5" y="617.8" width="11.5" height="11.5" rx="0.7" fill="#F0DCB4" stroke="#5c5c5c" stroke-width="1.1"/>
<text class="lg" x="254.4" y="628.6">0.04 - 0.5</text>
<rect x="323.9" y="602.7" width="11.5" height="11.5" rx="0.7" fill="#B4FAAA" stroke="#5c5c5c" stroke-width="1.1"/>
<text class="lg" x="342.8" y="612.6">0.5 - 1.0</text>
<rect x="323.9" y="617.8" width="11.5" height="11.5" rx="0.7" fill="#78F573" stroke="#5c5c5c" stroke-width="1.1"/>
<text class="lg" x="342.8" y="628.6">1.0 - 2.0</text>
<rect x="412.4" y="602.7" width="11.5" height="11.5" rx="0.7" fill="#B4F0FA" stroke="#5c5c5c" stroke-width="1.1"/>
<text class="lg" x="431.3" y="612.6">2.0 - 3.0</text>
<rect x="412.4" y="617.8" width="11.5" height="11.5" rx="0.7" fill="#78B9FA" stroke="#5c5c5c" stroke-width="1.1"/>
<text class="lg" x="431.3" y="628.6">3.0 - 4.0</text>
<rect x="500.9" y="602.7" width="11.5" height="11.5" rx="0.7" fill="#3C96F5" stroke="#5c5c5c" stroke-width="1.1"/>
<text class="lg" x="519.8" y="612.6">4.0 - 6.0</text>
<rect x="500.9" y="617.8" width="11.5" height="11.5" rx="0.7" fill="#1E6EEB" stroke="#5c5c5c" stroke-width="1.1"/>
<text class="lg" x="519.8" y="628.6">6.0 - 8.0</text>
<rect x="589.3" y="602.7" width="11.5" height="11.5" rx="0.7" fill="#FFE878" stroke="#5c5c5c" stroke-width="1.1"/>
<text class="lg" x="608.2" y="612.6">8.0 - 10.0</text>
<rect x="589.3" y="617.8" width="11.5" height="11.5" rx="0.7" fill="#FFA000" stroke="#5c5c5c" stroke-width="1.1"/>
<text class="lg" x="608.2" y="628.6">10.0 - 12.0</text>
<rect x="677.8" y="602.7" width="11.5" height="11.5" rx="0.7" fill="#E61900" stroke="#5c5c5c" stroke-width="1.1"/>
<text class="lg" x="696.6" y="612.6">&gt; 12.0</text>

<text class="t3" x="10.3" y="667.8">Map Produced by USGS/EROS</text>
<g id="usgs">
<rect x="844.2" y="645.1" width="17.6" height="18" fill="#0b7445"/>
<g fill="none" stroke="#fff" stroke-width="0.95" stroke-linecap="butt">
<path d="M844.2 650.3C847 649.6 849 650.4 851.5 652.6C854 655 856.5 656.9 861.8 656.7"/>
<path d="M844.2 652.6C847 651.9 849 652.7 851.5 654.9C854 657.3 856.5 659.1 861.8 658.9"/>
<path d="M844.2 654.9C847 654.2 849 655 851.5 657.2C854 659.5 856.5 661.3 861.8 661.1"/>
<path d="M861.8 646.6C858 648.2 855 650.2 851.8 652.9" stroke-width="1.5"/>
<path d="M861.8 649.6C859 650.6 856.5 652.2 854 654.6" stroke-width="0.8"/>
<path d="M861.8 652C859.5 652.8 857.8 654 856 655.8" stroke-width="0.7"/>
</g>
<text transform="translate(864.5 662.7) scale(0.742 1)" style="font:bold 24.6px 'Liberation Sans',sans-serif" fill="#0b7445" stroke="#0b7445" stroke-width="0.9" stroke-linejoin="round">USGS</text>
<text x="843.9" y="671" textLength="71.6" lengthAdjust="spacingAndGlyphs" style="font:italic bold 6.3px 'Liberation Sans',sans-serif" fill="#0b7445" stroke="#0b7445" stroke-width="0.2">science for a changing world</text>
</g>
<g id="noaa">
<circle cx="940.3" cy="656.7" r="15.7" fill="#fff" stroke="#c3cbe2" stroke-width="0.7"/>
<defs><clipPath id="nc"><circle cx="940.3" cy="656.7" r="13.8"/></clipPath>
<path id="nring" d="M925.6 656.7a14.7 14.7 0 1 1 29.4 0a14.7 14.7 0 1 1 -29.4 0"/></defs>
<g clip-path="url(#nc)">
<rect x="925" y="641" width="32" height="32" fill="#1a9af2"/>
<path d="M925 641H957V649.5C953.5 649 950 652.5 947 656C944.5 659 942 660.8 940.2 660.4C937 659.8 934 654 930.5 651.2C928.5 649.8 926.5 650.2 925 651.5Z" fill="#fff"/>
<path d="M929.2 649.6C931 645 935.5 642.6 940.3 642.6C945 642.6 949.8 645 951.6 648.6C949 650 946.5 653.5 944 656.2C942.6 657.8 941.4 658.9 940.4 658.8C938.6 658.4 936 654.6 933.6 652C932.2 650.6 930.6 649.7 929.2 649.6Z" fill="#0b1670"/>
<path d="M940.2 660.4C938.8 661.6 937.2 662.4 935.6 662.6C937.6 661.4 938.6 660.4 939.2 659.6Z" fill="#fff"/>
</g>
<text transform="translate(940.4 652.6) scale(0.92 1)" text-anchor="middle" style="font:bold 6.6px 'Liberation Sans',sans-serif" fill="#fff">noaa</text>
<text style="font:1.8px 'Liberation Sans',sans-serif" fill="#7f8bb8"><textPath href="#nring" startOffset="1">NATIONAL OCEANIC AND ATMOSPHERIC ADMINISTRATION · U.S. DEPARTMENT OF COMMERCE ·</textPath></text>
<text x="952.6" y="644.6" style="font:2.4px 'Liberation Sans',sans-serif" fill="#555">®</text>
</g>
<g id="nws">
<defs><path id="wring" d="M973.1 668A13 13 0 1 1 986.1 668"/><clipPath id="wc"><circle cx="979.6" cy="656.7" r="10.9"/></clipPath></defs>
<text style="font:bold 4.5px 'Liberation Sans',sans-serif" fill="#f0141e"><textPath href="#wring" startOffset="0" textLength="67.5" lengthAdjust="spacing">NATIONAL WEATHER SERVICE</textPath></text>
<circle cx="979.6" cy="656.7" r="10.9" fill="#fff" stroke="#1c2bb5" stroke-width="0.9"/>
<g clip-path="url(#wc)">
<path d="M968 656V645H991V656Z" fill="#27a0e4"/>
<path d="M968.4 653.4C970 651.4 972.5 652.2 973.6 651C975.5 649.6 978 650.6 979.6 649.8C982 648.8 984.5 650.4 986 650.2C988 650.6 989.5 652.4 990.6 653.6C992.2 655.4 991.4 658.4 989.4 659.4C987.5 661.4 984.5 661.4 983 662.2C980.5 663.2 977.5 662.2 975.5 661.6C972.5 661.8 970.5 660.4 969.4 658.8C967.8 657.4 967.6 654.8 968.4 653.4Z" fill="#0a0d9c"/>
<path d="M971.4 646.4L981.6 655.8L979.9 656.5L985.6 662.6L977.6 657.4L979.4 656.7L970.2 647.6Z" fill="#fff"/>
<path d="M970.6 664.4H988.8V668H970.6Z" fill="#27a0e4"/>
<path d="M971.5 664.2C975 663.2 984 663.2 988 664.2" stroke="#1c2bb5" stroke-width="0.5" fill="none"/>
</g>
<g><circle cx="976.1" cy="670.7" r="0.8" fill="#6a6fd0"/><circle cx="979.7" cy="671.4" r="0.85" fill="#f0141e"/><circle cx="983.4" cy="670.7" r="0.8" fill="#6a6fd0"/></g>
</g>

</svg>
</body></html>
